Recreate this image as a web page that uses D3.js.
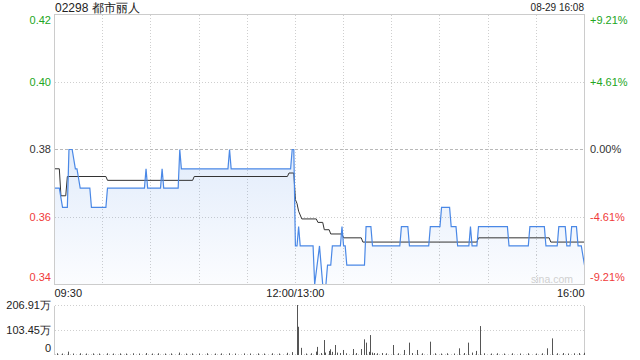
<!DOCTYPE html>
<html>
<head>
<meta charset="utf-8">
<script src="https://cdn.jsdelivr.net/npm/d3@7"></script>
<style>
  html, body { margin: 0; padding: 0; background: #fff; }
  svg { display: block; font-family: "Liberation Sans", Arial, sans-serif; }
  .grid { stroke: #cfcfcf; stroke-dasharray: 1,2; shape-rendering: crispEdges; }
  .frame { stroke: #cccccc; fill: none; shape-rendering: crispEdges; }
</style>
</head>
<body>
<div id="chart"></div>
<script>
(function(){
  // 1. Size of the picture
  const width = 640;
  const height = 360;

  // 2. Data (minute from 09:30, value)
  const stockTitle = "02298 都市丽人";
  const stampText = "08-29 16:08";
  const prevClose = 0.38;
  const timeLabels = ["09:30", "12:00/13:00", "16:00"];
  const priceTicks = [0.415, 0.3975, 0.38, 0.3625, 0.345];
  const priceLabels = ["0.42", "0.40", "0.38", "0.36", "0.34"];
  const pctLabels = ["+9.21%", "+4.61%", "0.00%", "-4.61%", "-9.21%"];
  const volTicks = [2069100, 1034550, 0];
  const volLabels = ["206.91万", "103.45万", "0"];

  const priceLine = [
    [0,0.37],[3,0.37],[5,0.365],[8,0.365],[9,0.38],[11,0.38],[13,0.375],[14,0.375],
    [16,0.37],[22,0.37],[23,0.365],[32,0.365],[33,0.37],[56,0.37],[57,0.375],[58,0.37],
    [66,0.37],[67,0.375],[68,0.37],[77,0.37],[78,0.38],[79,0.375],[108,0.375],[109,0.38],
    [110,0.375],[147,0.375],[148,0.38],[149,0.38],[150,0.355],[151,0.355],[152,0.36],[153,0.355],
    [161,0.355],[162,0.345],[165,0.355],[166,0.35],[167,0.345],[169,0.345],[170,0.35],[172,0.35],
    [173,0.355],[178,0.355],[179,0.36],[180,0.355],[181,0.355],[182,0.35],[193,0.35],[194,0.36],
    [197,0.36],[198,0.355],[215,0.355],[216,0.36],[220,0.36],[221,0.355],[233,0.355],[234,0.36],
    [240,0.36],[241,0.365],[246,0.365],[247,0.36],[250,0.36],[251,0.355],[258,0.355],[259,0.36],
    [260,0.355],[263,0.355],[264,0.36],[282,0.36],[283,0.355],[295,0.355],[296,0.36],[305,0.36],
    [306,0.355],[313,0.355],[314,0.36],[318,0.36],[319,0.355],[321,0.355],[322,0.36],[325,0.36],
    [326,0.355],[328,0.355],[330,0.35]
  ];

  const avgLine = [
    [0,0.375],[3,0.375],[4,0.368],[7,0.368],[8,0.373],[32,0.373],[33,0.372],[86,0.372],
    [87,0.373],[145,0.373],[146,0.3739],[149,0.3739],[150,0.367],[151,0.366],[152,0.364],
    [154,0.362],[163,0.362],[164,0.3611],[167,0.3611],[168,0.3592],[171,0.3592],[172,0.3581],
    [179,0.3581],[180,0.3571],[191,0.3571],[192,0.356],[263,0.356],[264,0.3571],[308,0.3571],
    [309,0.356],[330,0.356]
  ];

  const volumes = [
    [2,30000],[5,20000],[9,100000],[12,20000],[16,30000],[20,20000],[24,25000],[28,20000],
    [33,30000],[37,20000],[41,25000],[45,20000],[49,30000],[53,20000],[57,40000],[61,20000],
    [65,30000],[69,20000],[73,25000],[78,60000],[82,20000],[86,25000],[90,20000],[95,30000],
    [100,20000],[104,25000],[109,30000],[113,20000],[118,25000],[122,20000],[127,25000],[131,20000],
    [136,30000],[140,20000],[145,50000],[148,80000],[151,2069100],[152,1150000],[154,260000],
    [157,20000],[160,30000],[163,100000],[164,300000],[166,40000],[168,590000],[169,60000],
    [171,130000],[172,200000],[173,90000],[175,380000],[176,60000],[178,40000],[180,170000],
    [182,30000],[186,210000],[188,40000],[191,210000],[193,620000],[194,480000],[196,90000],
    [197,800000],[198,60000],[199,40000],[201,30000],[204,40000],[207,30000],[211,380000],
    [214,30000],[218,170000],[221,480000],[223,40000],[226,170000],[229,30000],[234,520000],
    [237,30000],[241,20000],[245,30000],[249,20000],[252,240000],[255,40000],[258,480000],
    [260,60000],[263,130000],[265,1180000],[268,30000],[272,20000],[276,30000],[280,20000],
    [285,30000],[290,20000],[295,30000],[300,20000],[304,30000],[307,240000],[310,660000],
    [313,30000],[317,40000],[320,20000],[324,30000],[327,40000],[330,50000]
  ];

  // 3. Colours
  const upColor = "#22a622";
  const downColor = "#f03a3a";
  const flatColor = "#333";
  const blue = "#4a88e6";

  // 4. Scales
  const x = d3.scaleLinear().domain([0, 330]).range([54.5, 584.5]);
  const y = d3.scaleLinear().domain([0.345, 0.415]).range([284.5, 14.5]);
  const yVol = d3.scaleLinear().domain([0, 2069100]).range([354.5, 305.5]);

  const svg = d3.select("#chart").append("svg")
    .attr("width", width)
    .attr("height", height);

  const defs = svg.append("defs");
  const grad = defs.append("linearGradient")
    .attr("id", "areaFill")
    .attr("x1", 0).attr("y1", 0).attr("x2", 0).attr("y2", 1);
  grad.append("stop").attr("offset", "0%").attr("stop-color", "#4a88e6").attr("stop-opacity", 0.16);
  grad.append("stop").attr("offset", "100%").attr("stop-color", "#4a88e6").attr("stop-opacity", 0.02);

  // 5. Grid lines
  const gridMinutes = d3.range(30, 330, 30);
  svg.append("g").selectAll("line")
    .data(gridMinutes)
    .join("line")
    .attr("class", "grid")
    .attr("x1", d => x(d)).attr("x2", d => x(d))
    .attr("y1", y(0.415)).attr("y2", y(0.345));

  svg.append("g").selectAll("line")
    .data(priceTicks.slice(1, -1))
    .join("line")
    .attr("class", "grid")
    .attr("x1", x(0)).attr("x2", x(330))
    .attr("y1", d => y(d)).attr("y2", d => y(d))
    .style("stroke", d => d === prevClose ? "#b8b8b8" : null)
    .style("stroke-dasharray", d => d === prevClose ? "3,2" : null);

  svg.append("g").selectAll("line")
    .data(volTicks)
    .join("line")
    .attr("class", "grid")
    .attr("x1", x(0)).attr("x2", x(330))
    .attr("y1", d => yVol(d)).attr("y2", d => yVol(d));

  // 6. Price area and lines
  const area = d3.area()
    .x(d => x(d[0]))
    .y0(y(0.345))
    .y1(d => y(d[1]));
  svg.append("path")
    .datum(priceLine)
    .attr("d", area)
    .attr("fill", "url(#areaFill)");

  const line = d3.line().x(d => x(d[0])).y(d => y(d[1]));
  svg.append("path")
    .datum(avgLine)
    .attr("d", line)
    .attr("fill", "none")
    .attr("stroke", "#333")
    .attr("stroke-width", 1);
  svg.append("path")
    .datum(priceLine)
    .attr("d", line)
    .attr("fill", "none")
    .attr("stroke", blue)
    .attr("stroke-width", 1.2);

  // 7. Frames
  svg.append("rect").attr("class", "frame")
    .attr("x", x(0)).attr("y", y(0.415))
    .attr("width", x(330) - x(0)).attr("height", y(0.345) - y(0.415));
  svg.append("line").attr("class", "frame")
    .attr("x1", x(0)).attr("x2", x(0)).attr("y1", yVol(2069100)).attr("y2", yVol(0));
  svg.append("line").attr("class", "frame")
    .attr("x1", x(330)).attr("x2", x(330)).attr("y1", yVol(2069100)).attr("y2", yVol(0));

  // 8. Volume bars
  svg.append("g").selectAll("rect")
    .data(volumes)
    .join("rect")
    .attr("x", d => Math.floor(x(d[0])))
    .attr("width", 1)
    .attr("y", d => yVol(d[1]) - 0.5)
    .attr("height", d => yVol(0) + 0.5 - yVol(d[1]) + 0.5)
    .attr("fill", "#555");

  // 9. Texts
  svg.append("text").attr("x", 55).attr("y", 12)
    .attr("font-size", 12).attr("fill", "#222").text(stockTitle);
  svg.append("text").attr("x", 584).attr("y", 11)
    .attr("text-anchor", "end").attr("font-size", 10).attr("fill", "#222").text(stampText);

  const tickColor = d => d > prevClose ? upColor : (d < prevClose ? downColor : flatColor);
  const labelY = (d, i) => y(d) + (i === 0 ? 6 : (i === priceTicks.length - 1 ? -7 : 0));

  svg.append("g").selectAll("text")
    .data(priceTicks)
    .join("text")
    .attr("x", 51)
    .attr("y", labelY)
    .attr("dy", "0.35em")
    .attr("text-anchor", "end")
    .attr("font-size", 11)
    .attr("fill", tickColor)
    .text((d, i) => priceLabels[i]);

  svg.append("g").selectAll("text")
    .data(priceTicks)
    .join("text")
    .attr("x", 590)
    .attr("y", labelY)
    .attr("dy", "0.35em")
    .attr("font-size", 11)
    .attr("fill", tickColor)
    .text((d, i) => pctLabels[i]);

  svg.append("g").selectAll("text")
    .data(timeLabels)
    .join("text")
    .attr("x", (d, i) => [x(0), x(150), x(330)][i])
    .attr("y", 297)
    .attr("text-anchor", (d, i) => ["start", "middle", "end"][i])
    .attr("font-size", 11)
    .attr("fill", "#222")
    .text(d => d);

  svg.append("g").selectAll("text")
    .data(volTicks)
    .join("text")
    .attr("x", 51)
    .attr("y", (d, i) => yVol(d) + (i === 2 ? -6 : 0))
    .attr("dy", "0.35em")
    .attr("text-anchor", "end")
    .attr("font-size", 11)
    .attr("fill", "#222")
    .text((d, i) => volLabels[i]);

  // watermark
  svg.append("text").attr("x", 573).attr("y", 283)
    .attr("text-anchor", "end").attr("font-size", 10.5).attr("fill", "#d0d0d0").text("sina.com");
})();
</script>
</body>
</html>
